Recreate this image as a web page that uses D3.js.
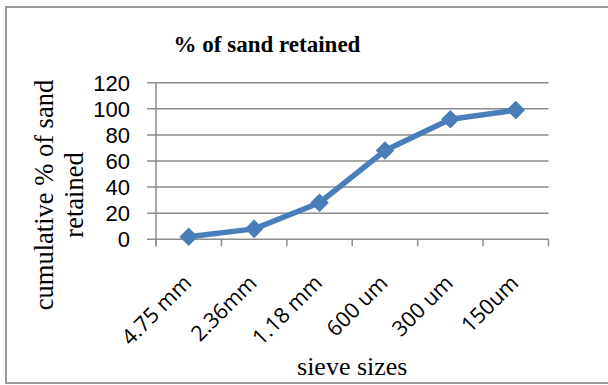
<!DOCTYPE html>
<html>
<head>
<meta charset="utf-8">
<script src="https://cdn.jsdelivr.net/npm/d3@7/dist/d3.min.js"></script>
<style>
  html, body { margin: 0; padding: 0; background: #fff; }
  svg { display: block; }
</style>
</head>
<body>
<svg id="chart" width="608" height="385"></svg>
<script>
// Sieve analysis: cumulative % of sand retained per sieve size
const sieveSizes = ["4.75 mm", "2.36mm", "1.18 mm", "600 um", "300 um", "150um"];
const retainedPct = [2, 8, 28, 68, 92, 99];
const yTicks = [0, 20, 40, 60, 80, 100, 120];

const titleText = "% of sand retained";
const yTitleLines = ["cumulative % of sand", "retained"];
const xTitleText = "sieve sizes";

const svg = d3.select("#chart");
const plot = { left: 156, right: 548.5, top: 82.7, bottom: 239.3 };

const blue = "#4a7ebb";
const gridColor = "#8c8c8c";
const tickFont = "'Open Sans', 'Liberation Sans', sans-serif";
const valueFont = "'Liberation Sans', Arial, sans-serif";
const serif = "'Liberation Serif', 'Times New Roman', serif";

// outer chart frame
svg.append("rect")
  .attr("x", 6).attr("y", 7)
  .attr("width", 640).attr("height", 376)
  .attr("fill", "#fff")
  .attr("stroke", "#9a9a9a")
  .attr("stroke-width", 2);

const x = d3.scaleBand().domain(sieveSizes).range([plot.left, plot.right]).padding(0);
const y = d3.scaleLinear().domain([0, 120]).range([plot.bottom, plot.top]);

// horizontal gridlines with short outward ticks
svg.append("g").selectAll("line")
  .data(yTicks).join("line")
  .attr("x1", plot.left - 9).attr("x2", plot.right)
  .attr("y1", d => y(d)).attr("y2", d => y(d))
  .attr("stroke", gridColor).attr("stroke-width", 1.5);

// vertical axis line
svg.append("line")
  .attr("x1", plot.left).attr("x2", plot.left)
  .attr("y1", y(120)).attr("y2", plot.bottom + 7)
  .attr("stroke", gridColor).attr("stroke-width", 1.5);

// category boundary ticks below the baseline
const bounds = sieveSizes.map(d => x(d)).concat([x(sieveSizes[sieveSizes.length - 1]) + x.bandwidth()]);
svg.append("g").selectAll("line")
  .data(bounds).join("line")
  .attr("x1", d => d).attr("x2", d => d)
  .attr("y1", plot.bottom).attr("y2", plot.bottom + 7)
  .attr("stroke", gridColor).attr("stroke-width", 1.5);

// y tick labels
svg.append("g").selectAll("text")
  .data(yTicks).join("text")
  .attr("x", 130).attr("y", d => y(d))
  .attr("dy", "0.36em")
  .attr("text-anchor", "end")
  .attr("font-family", valueFont)
  .attr("font-size", 22)
  .attr("fill", "#000")
  .text(d => d);

// rotated category labels
svg.append("g").selectAll("text")
  .data(sieveSizes).join("text")
  .attr("transform", d => `translate(${x(d) + x.bandwidth() / 2 + 4},${plot.bottom + 45}) rotate(-45)`)
  .attr("text-anchor", "end")
  .attr("font-family", tickFont)
  .attr("font-size", 21.5)
  .attr("fill", "#000")
  .text(d => d);

// series line and diamond markers
const cx = d => x(d) + x.bandwidth() / 2;
const pts = sieveSizes.map((s, i) => [cx(s), y(retainedPct[i])]);

svg.append("path")
  .attr("d", d3.line()(pts))
  .attr("fill", "none")
  .attr("stroke", blue)
  .attr("stroke-width", 5.5)
  .attr("stroke-linejoin", "round");

svg.append("g").selectAll("path")
  .data(pts).join("path")
  .attr("transform", d => `translate(${d[0]},${d[1]})`)
  .attr("d", d3.symbol().type(d3.symbolDiamond2).size(220)())
  .attr("fill", blue);

// titles
svg.append("text")
  .attr("x", 267).attr("y", 52)
  .attr("text-anchor", "middle")
  .attr("font-family", serif)
  .attr("font-weight", "bold")
  .attr("font-size", 23)
  .text(titleText);

const yTitle = svg.append("text")
  .attr("transform", "translate(0,195) rotate(-90)")
  .attr("text-anchor", "middle")
  .attr("font-family", serif)
  .attr("font-size", 26.5);
yTitleLines.forEach((line, i) => {
  yTitle.append("tspan")
    .attr("x", 0)
    .attr("y", 53 + i * 30)
    .text(line);
});

svg.append("text")
  .attr("x", (plot.left + plot.right) / 2).attr("y", 375)
  .attr("text-anchor", "middle")
  .attr("font-family", serif)
  .attr("font-size", 26)
  .text(xTitleText);
</script>
</body>
</html>
